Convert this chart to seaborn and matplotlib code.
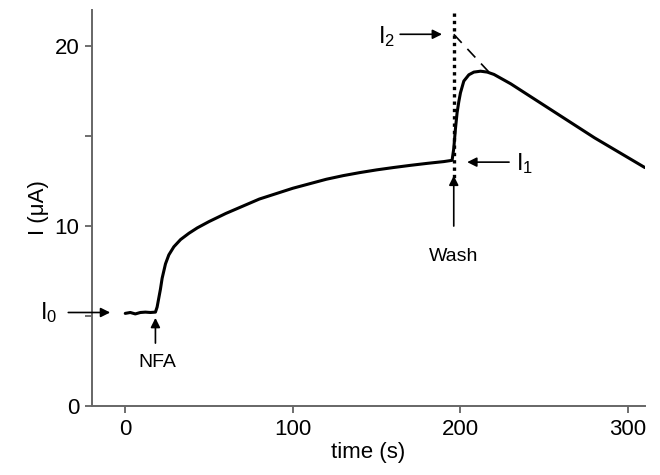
import matplotlib
matplotlib.use('Agg')
import matplotlib.pyplot as plt
import seaborn as sns
import pandas as pd

# current trace (time in s, current in uA)
tiempo = [0, 3, 6, 9, 12, 15, 18, 19, 20, 21, 22, 24, 26, 29, 33, 38, 43, 50, 60,
          70, 80, 90, 100, 110, 120, 130, 140, 150, 160, 170, 180, 190, 195,
          196, 197, 198, 199, 200, 202, 205, 208, 212, 216, 220, 230, 240, 250,
          260, 270, 280, 290, 300, 310]
corriente = [5.15, 5.2, 5.12, 5.2, 5.22, 5.2, 5.22, 5.5, 6.0, 6.5, 7.1, 7.9, 8.4,
             8.85, 9.25, 9.6, 9.9, 10.25, 10.7, 11.1, 11.5, 11.8, 12.1, 12.35,
             12.6, 12.8, 12.97, 13.12, 13.25, 13.37, 13.48, 13.58, 13.65,
             14.3, 15.4, 16.3, 16.9, 17.4, 18.05, 18.4, 18.55, 18.6, 18.55,
             18.42, 17.9, 17.3, 16.7, 16.1, 15.5, 14.9, 14.35, 13.8, 13.25]

# extrapolated back to the wash time (dashed)
extrap_t = [196, 217]
extrap_i = [20.65, 18.55]

t_nfa = 18
t_wash = 196


def main():
    sns.set_theme(style="ticks")
    plt.rcParams['font.family'] = ['Liberation Sans', 'DejaVu Sans']
    plt.rcParams['mathtext.fontset'] = 'custom'
    plt.rcParams['mathtext.rm'] = 'Liberation Sans'
    plt.rcParams['text.color'] = 'black'
    plt.rcParams['axes.labelcolor'] = 'black'

    df = pd.DataFrame({'t': tiempo, 'I': corriente})

    fig = plt.figure(figsize=(6.6, 4.75), dpi=100)
    ax = fig.add_axes([0.139, 0.145, 0.838, 0.834])

    sns.lineplot(data=df, x='t', y='I', ax=ax, color='black', linewidth=2.2,
                 estimator=None, sort=False)
    ax.plot(extrap_t, extrap_i, color='black', linewidth=1.2, dashes=(7, 5))
    ax.axvline(t_wash, ymin=12.3 / 22, ymax=1, color='black',
               linestyle=(0, (1, 1.2)), linewidth=2.4)

    ax.set_xlim(-20, 310)
    ax.set_ylim(0, 22)
    ax.set_xticks([0, 100, 200, 300])
    ax.set_yticks([0, 5, 10, 15, 20])
    ax.set_yticklabels(['0', '', '10', '', '20'])
    ax.set_xlabel('time (s)', fontsize=16, labelpad=2)
    ax.set_ylabel('I (μA)', fontsize=16, labelpad=4)
    ax.tick_params(labelsize=16, color='#555555', labelcolor='black',
                   width=1.2, length=5, pad=4)
    for s in ['top', 'right']:
        ax.spines[s].set_visible(False)
    for s in ['left', 'bottom']:
        ax.spines[s].set_color('#666666')
        ax.spines[s].set_linewidth(1.4)

    flecha = dict(arrowstyle='-|>', color='black', lw=1.2,
                  mutation_scale=14, shrinkA=0, shrinkB=0)
    fs = 14
    # I0
    ax.annotate('', xy=(-9, 5.2), xytext=(-34, 5.2), arrowprops=flecha,
                annotation_clip=False)
    ax.text(-46, 5.2, r'$\mathregular{I_0}$', fontsize=17, ha='center',
            va='center', clip_on=False)
    # NFA
    ax.annotate('', xy=(t_nfa, 4.9), xytext=(t_nfa, 3.5), arrowprops=flecha)
    ax.text(t_nfa + 1, 2.4, 'NFA', fontsize=fs, ha='center', va='center')
    # Wash
    ax.annotate('', xy=(t_wash, 12.8), xytext=(t_wash, 10.0), arrowprops=flecha)
    ax.text(t_wash, 8.3, 'Wash', fontsize=fs, ha='center', va='center')
    # I1
    ax.annotate('', xy=(204, 13.55), xytext=(229, 13.55), arrowprops=flecha)
    ax.text(238, 13.45, r'$\mathregular{I_1}$', fontsize=17, ha='center',
            va='center')
    # I2
    ax.annotate('', xy=(189, 20.65), xytext=(164, 20.65), arrowprops=flecha)
    ax.text(156, 20.55, r'$\mathregular{I_2}$', fontsize=17, ha='center',
            va='center')

    fig.savefig('out.png', dpi=100)
    plt.close(fig)


if __name__ == "__main__":
    main()
